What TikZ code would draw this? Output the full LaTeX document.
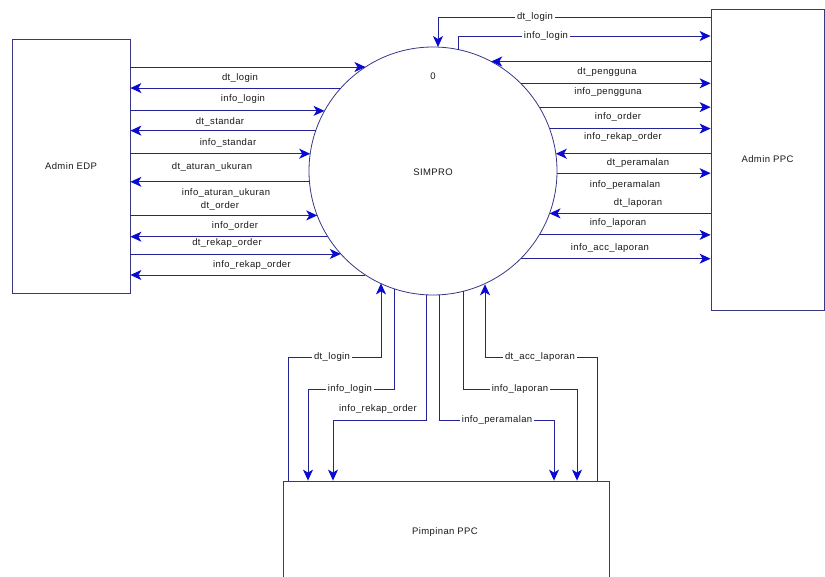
\documentclass[tikz,border=0pt]{standalone}
\usepackage{fontspec}
\setmainfont{Liberation Sans}[LetterSpace=4]
\usetikzlibrary{arrows.meta}
\definecolor{lin}{RGB}{35,35,150}
\definecolor{arr}{RGB}{10,10,210}
\definecolor{bord}{RGB}{55,55,130}
\begin{document}
\begin{tikzpicture}[x=1pt,y=-1pt,
  flow/.style={draw=lin,line width=0.9pt,-{Stealth[length=11pt,width=10pt,inset=3pt,line width=1pt,arr]}},
  lbl/.style={font=\fontsize{9.5}{11}\selectfont,text=black!90,inner sep=1pt},
  wlbl/.style={lbl,fill=white,inner sep=2pt},
  ent/.style={draw=bord,line width=0.8pt,font=\fontsize{9.5}{11}\selectfont,text=black!90}]
\useasboundingbox (0,0) rectangle (825,577);
% entities
\node[ent,minimum width=118pt,minimum height=254pt] (edp) at (71,166) {Admin EDP};
\node[ent,minimum width=113pt,minimum height=301pt] (ppc) at (767.5,159.5) {Admin PPC};
\node[ent,minimum width=326pt,minimum height=120pt] (pim) at (446,541) {};
\node[ent,draw=none] (pimtxt) at (445,532) {Pimpinan PPC};
\node[circle,draw=bord,line width=0.8pt,minimum size=248pt,inner sep=0pt,outer sep=0pt] (simpro) at (433,171) {};
\node[lbl] (simprotxt) at (433,172) {SIMPRO};
\node[lbl] (zero) at (433,76) {0};
% left flows
\draw[flow] (simpro.123.0 -| edp.east) -- (simpro.123.0);
\draw[flow] (simpro.138.0) -- (simpro.138.0 -| edp.east);
\draw[flow] (simpro.151.6 -| edp.east) -- (simpro.151.6);
\draw[flow] (simpro.161.7) -- (simpro.161.7 -| edp.east);
\draw[flow] (simpro.172.1 -| edp.east) -- (simpro.172.1);
\draw[flow] (simpro.185.1) -- (simpro.185.1 -| edp.east);
\draw[flow] (simpro.201.8 -| edp.east) -- (simpro.201.8);
\draw[flow] (simpro.212.2) -- (simpro.212.2 -| edp.east);
\draw[flow] (simpro.222.6 -| edp.east) -- (simpro.222.6);
\draw[flow] (simpro.237.9) -- (simpro.237.9 -| edp.east);
\node[lbl] at (240,78) {dt\_login};
\node[lbl] at (243,99) {info\_login};
\node[lbl] at (220,122) {dt\_standar};
\node[lbl] at (228,143) {info\_standar};
\node[lbl] at (212,167) {dt\_aturan\_ukuran};
\node[lbl] at (226,193) {info\_aturan\_ukuran};
\node[lbl] at (220,206) {dt\_order};
\node[lbl] at (235,226) {info\_order};
\node[lbl] at (227,243) {dt\_rekap\_order};
\node[lbl] at (252,265) {info\_rekap\_order};
% top flows
\coordinate (t1) at (438,17);
\coordinate (t2) at (457,36);
\draw[flow] (t1 -| ppc.west) -- (t1) -- (t1 |- simpro.north);
\draw[flow] (simpro.78.4) |- (t2 -| ppc.west);
\node[wlbl] at (535,17) {dt\_login};
\node[wlbl] at (546,36) {info\_login};
% right flows
\draw[flow] (simpro.62.5 -| ppc.west) -- (simpro.62.5);
\draw[flow] (simpro.45.9) -- (simpro.45.9 -| ppc.west);
\draw[flow] (simpro.31.6) -- (simpro.31.6 -| ppc.west);
\draw[flow] (simpro.20.8) -- (simpro.20.8 -| ppc.west);
\draw[flow] (simpro.8.8 -| ppc.west) -- (simpro.8.8);
\draw[flow] (simpro.-1.4) -- (simpro.-1.4 -| ppc.west);
\draw[flow] (simpro.-20.8 -| ppc.west) -- (simpro.-20.8);
\draw[flow] (simpro.-31.1) -- (simpro.-31.1 -| ppc.west);
\draw[flow] (simpro.-45.2) -- (simpro.-45.2 -| ppc.west);
\node[lbl] at (607,72) {dt\_pengguna};
\node[lbl] at (608,92) {info\_pengguna};
\node[lbl] at (618,117) {info\_order};
\node[lbl] at (623,137) {info\_rekap\_order};
\node[lbl] at (638,163) {dt\_peramalan};
\node[lbl] at (625,185) {info\_peramalan};
\node[lbl] at (638,203) {dt\_laporan};
\node[lbl] at (618,223) {info\_laporan};
\node[lbl] at (610,248) {info\_acc\_laporan};
% bottom flows
\coordinate (b1) at (288,357); \coordinate (b1x) at (381,357);
\draw[flow] (b1 |- pim.north) -- (b1) -- (b1x) -- (b1x |- simpro.245.2);
\coordinate (b2) at (308,389);
\draw[flow] (simpro.252.7) |- (b2) -- (b2 |- pim.north);
\coordinate (b3) at (333,420);
\draw[flow] (simpro.267.7) |- (b3) -- (b3 |- pim.north);
\coordinate (b4) at (554,420);
\draw[flow] (simpro.273.7) |- (b4) -- (b4 |- pim.north);
\coordinate (b5) at (577,389);
\draw[flow] (simpro.284.5) |- (b5) -- (b5 |- pim.north);
\coordinate (b6) at (597,357); \coordinate (b6x) at (485,357);
\draw[flow] (b6 |- pim.north) -- (b6) -- (b6x) -- (b6x |- simpro.294.8);
\node[wlbl] at (332,357) {dt\_login};
\node[wlbl] at (350,389) {info\_login};
\node[lbl] at (378,409) {info\_rekap\_order};
\node[wlbl] at (497,420) {info\_peramalan};
\node[wlbl] at (520,389) {info\_laporan};
\node[wlbl] at (540,357) {dt\_acc\_laporan};
\end{tikzpicture}
\end{document}
